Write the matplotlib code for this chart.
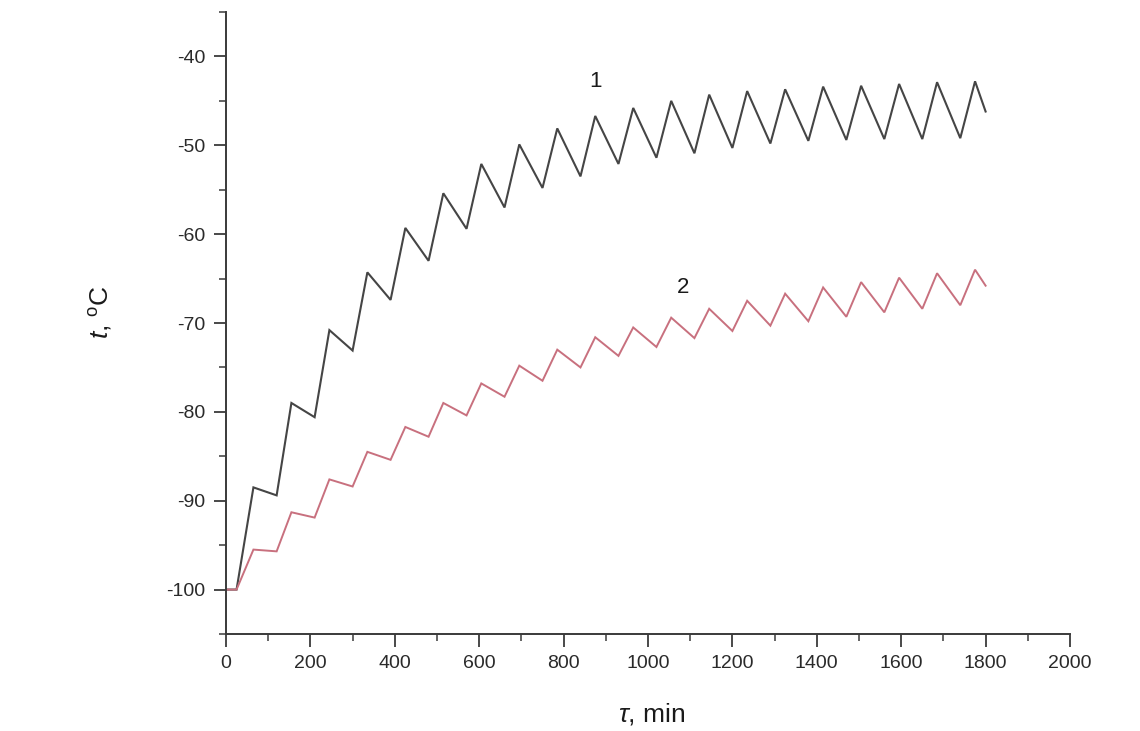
import matplotlib
matplotlib.use("Agg")
import matplotlib.pyplot as plt
from matplotlib.ticker import MultipleLocator

# ---- data ----
time_min = [0, 25, 65, 120, 155, 210, 245, 300, 335, 390, 425, 480, 515, 570,
            605, 660, 695, 750, 785, 840, 875, 930, 965, 1020, 1055, 1110,
            1145, 1200, 1235, 1290, 1325, 1380, 1415, 1470, 1505, 1560,
            1595, 1650, 1685, 1740, 1775, 1800]

temp_curve1 = [-100, -100, -88.5, -89.4, -79.0, -80.6, -70.8, -73.1, -64.3, -67.4,
               -59.3, -63.0, -55.4, -59.4, -52.1, -57.0, -49.9, -54.8, -48.1, -53.5,
               -46.7, -52.1, -45.8, -51.4, -45.0, -50.9, -44.3, -50.3, -43.9, -49.8,
               -43.7, -49.5, -43.4, -49.4, -43.3, -49.3, -43.1, -49.3, -42.9, -49.2,
               -42.8, -46.2]

temp_curve2 = [-100, -100, -95.5, -95.7, -91.3, -91.9, -87.6, -88.4, -84.5, -85.4,
               -81.7, -82.8, -79.0, -80.4, -76.8, -78.3, -74.8, -76.5, -73.0, -75.0,
               -71.6, -73.7, -70.5, -72.7, -69.4, -71.7, -68.4, -70.9, -67.5, -70.3,
               -66.7, -69.8, -66.0, -69.3, -65.4, -68.8, -64.9, -68.4, -64.4, -68.0,
               -64.0, -65.8]

curve_labels = ["1", "2"]
label_pos = [(875, -42.8), (1082, -66.0)]

x_ticks = [0, 200, 400, 600, 800, 1000, 1200, 1400, 1600, 1800, 2000]
y_ticks = [-100, -90, -80, -70, -60, -50, -40]

# ---- style ----
plt.rcParams['font.family'] = ['Liberation Sans', 'DejaVu Sans']
plt.rcParams['mathtext.fontset'] = 'custom'
plt.rcParams['mathtext.rm'] = 'Liberation Sans'
plt.rcParams['mathtext.it'] = 'Liberation Sans:italic'
plt.rcParams['axes.unicode_minus'] = False

W, H = 1140, 731
fig = plt.figure(figsize=(W / 100, H / 100), dpi=100)
fig.patch.set_facecolor('white')
ax = fig.add_axes([226 / W, 1 - 634 / H, (1070 - 226) / W, (634 - 12) / H])

ax.plot(time_min, temp_curve1, color='#454545', lw=1.5, solid_joinstyle='miter')
ax.plot(time_min, temp_curve2, color='#c8707e', lw=1.4, solid_joinstyle='miter')

for lab, (xx, yy) in zip(curve_labels, label_pos):
    ax.text(xx, yy, lab, fontsize=16, color='#1a1a1a', ha='center', va='center')

ax.set_xlim(0, 2000)
ax.set_ylim(-105, -35)
ax.set_xticks(x_ticks)
ax.set_yticks(y_ticks)
ax.xaxis.set_minor_locator(MultipleLocator(100))
ax.yaxis.set_minor_locator(MultipleLocator(5))

for s in ['top', 'right']:
    ax.spines[s].set_visible(False)
for s in ['left', 'bottom']:
    ax.spines[s].set_linewidth(1.4)
    ax.spines[s].set_color('#3a3a3a')

ax.tick_params(which='major', direction='out', length=9, width=1.3,
               colors='#3a3a3a', labelsize=14, labelcolor='#2a2a2a')
ax.tick_params(which='minor', direction='out', length=5, width=1.1, colors='#3a3a3a')
ax.tick_params(axis='y', which='major', pad=6)
ax.tick_params(axis='x', which='major', pad=6)

fig.text(100 / W, 1 - 312 / H, r'$t$, $^{\rm o}$C', rotation=90, fontsize=19,
         ha='center', va='center', color='#1a1a1a')
fig.text(652 / W, 1 - 714 / H, r'$\tau$, min', fontsize=19,
         ha='center', va='center', color='#1a1a1a')

fig.savefig('out.png', dpi=100, facecolor='white')
